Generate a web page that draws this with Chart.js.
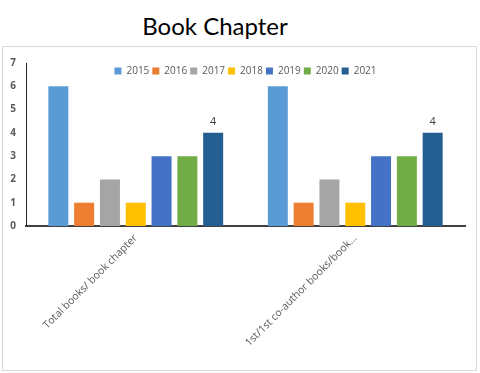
<!DOCTYPE html>
<html>
<head>
<meta charset="utf-8">
<script src="https://cdn.jsdelivr.net/npm/chart.js@4/dist/chart.umd.min.js"></script>
<style>
  html, body { margin: 0; padding: 0; background: #fff; }
  #page { position: relative; width: 480px; height: 373px; overflow: hidden; }
  #title {
    position: absolute; left: 0; top: 11px; width: 430px;
    text-align: center; font-family: Lato, sans-serif; font-size: 24px;
    line-height: 30px; color: #000;
  }
  #box {
    position: absolute; left: 2px; top: 46px; width: 473px; height: 323px;
    border: 1px solid #d9d9d9;
  }
</style>
</head>
<body>
<div id="page">
  <div id="title">Book Chapter</div>
  <div id="box"><canvas id="chart"></canvas></div>
</div>
<script>
const categories = ['Total books/ book chapter', '1st/1st co-author books/book...'];
const years = ['2015', '2016', '2017', '2018', '2019', '2020', '2021'];
const values2015 = [6, 6];
const values2016 = [1, 1];
const values2017 = [2, 2];
const values2018 = [1, 1];
const values2019 = [3, 3];
const values2020 = [3, 3];
const values2021 = [4, 4];
const yTicks = [0, 1, 2, 3, 4, 5, 6, 7];

const series = [values2015, values2016, values2017, values2018, values2019, values2020, values2021];
const colors = ['#5B9BD5', '#ED7D31', '#A5A5A5', '#FFC000', '#4472C4', '#70AD47', '#255E91'];

// label on top of the 2021 bars only
const valueLabels = {
  id: 'valueLabels',
  afterDatasetsDraw(chart) {
    const ctx = chart.ctx;
    const idx = chart.data.datasets.length - 1;
    const meta = chart.getDatasetMeta(idx);
    ctx.save();
    ctx.font = '11px "Open Sans", sans-serif';
    ctx.fillStyle = '#404040';
    ctx.textAlign = 'center';
    ctx.textBaseline = 'bottom';
    meta.data.forEach((bar, i) => {
      ctx.fillText(String(chart.data.datasets[idx].data[i]), bar.x, bar.y - 5);
    });
    ctx.restore();
  }
};

// legend sits inside the plot area, so it takes no room in the layout
const legendInside = {
  id: 'legendInside',
  beforeLayout(chart) {
    const lg = chart.legend;
    if (lg && !lg._inside) {
      const fit = lg.fit.bind(lg);
      lg.fit = function () { fit(); this._realH = this.height; this.height = 0; };
      lg._inside = true;
    }
  },
  afterLayout(chart) {
    const lg = chart.legend;
    if (lg && lg._realH) {
      lg.height = lg._realH;
      lg.bottom = lg.top + lg._realH;
    }
  }
};

new Chart(document.getElementById('chart'), {
  type: 'bar',
  data: {
    labels: categories,
    datasets: years.map((y, i) => ({
      label: y,
      data: series[i],
      backgroundColor: colors[i],
      borderWidth: 0,
      categoryPercentage: 0.823,
      barPercentage: 0.775
    }))
  },
  options: {
    responsive: true,
    maintainAspectRatio: false,
    animation: false,
    layout: { padding: { top: 13, right: 11, left: 0, bottom: 0 } },
    plugins: {
      legend: {
        position: 'top',
        align: 'center',
        fullSize: false,
        labels: {
          boxWidth: 7,
          boxHeight: 7,
          padding: 3,
          color: '#595959',
          font: { family: '"Open Sans", sans-serif', size: 10 }
        }
      },
      title: { display: false },
      tooltip: { enabled: false }
    },
    scales: {
      x: {
        grid: { display: false, drawTicks: false },
        border: { display: true, color: '#404040', width: 2 },
        ticks: {
          minRotation: 45,
          maxRotation: 45,
          color: '#595959',
          padding: 6,
          font: { family: '"Open Sans", sans-serif', size: 10.5 }
        },
        afterFit(scale) { scale.height = 144; }
      },
      y: {
        min: 0,
        max: 7,
        afterBuildTicks(scale) { scale.ticks = yTicks.map(v => ({ value: v })); },
        grid: { display: false, drawTicks: false },
        border: { display: true, color: '#262626', width: 1 },
        ticks: {
          color: '#595959',
          padding: 10,
          font: { family: '"Open Sans", sans-serif', size: 10, weight: 'bold' }
        },
        afterFit(scale) { scale.width = 23; }
      }
    }
  },
  plugins: [legendInside, valueLabels]
});
</script>
</body>
</html>
